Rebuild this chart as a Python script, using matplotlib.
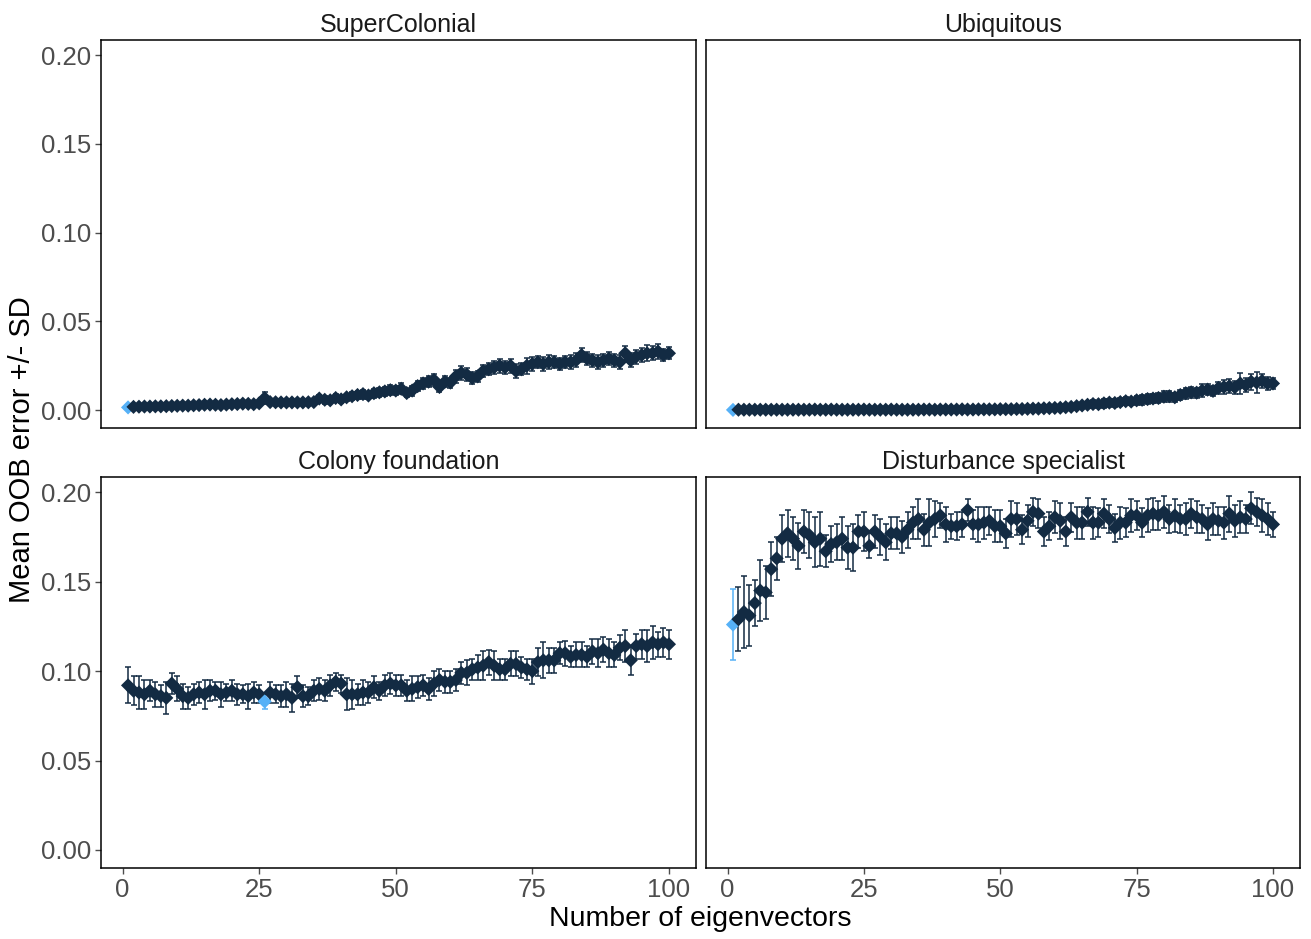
import numpy as np
import matplotlib
matplotlib.use("Agg")
import matplotlib.pyplot as plt

plt.rcParams['font.family'] = ['Liberation Sans', 'DejaVu Sans']

n_eig = np.arange(1, 101)

# --- mean OOB error per number of eigenvectors ---
super_mean = [0.0015, 0.0018, 0.0019, 0.0020, 0.0020, 0.0021, 0.0021, 0.0022, 0.0023, 0.0024,
              0.0025, 0.0025, 0.0027, 0.0028, 0.0030, 0.0031, 0.0030, 0.0028, 0.0031, 0.0033,
              0.0034, 0.0036, 0.0035, 0.0033, 0.0038, 0.0068, 0.0045, 0.0044, 0.0043, 0.0043,
              0.0043, 0.0043, 0.0043, 0.0044, 0.0045, 0.0065, 0.0058, 0.0055, 0.0068, 0.0060,
              0.0072, 0.0078, 0.0085, 0.0090, 0.0082, 0.0095, 0.0100, 0.0105, 0.0112, 0.0110,
              0.0120, 0.0096, 0.0110, 0.0135, 0.0150, 0.0160, 0.0170, 0.0130, 0.0160, 0.0155,
              0.0190, 0.0210, 0.0200, 0.0180, 0.0190, 0.0220, 0.0230, 0.0240, 0.0250, 0.0240,
              0.0250, 0.0220, 0.0230, 0.0250, 0.0260, 0.0270, 0.0260, 0.0270, 0.0270, 0.0260,
              0.0270, 0.0270, 0.0280, 0.0310, 0.0290, 0.0280, 0.0270, 0.0280, 0.0290, 0.0280,
              0.0270, 0.0320, 0.0280, 0.0300, 0.0310, 0.0320, 0.0320, 0.0330, 0.0310, 0.0320]
super_sd = [0.0004, 0.0004, 0.0004, 0.0004, 0.0004, 0.0005, 0.0005, 0.0005, 0.0005, 0.0005,
            0.0005, 0.0005, 0.0006, 0.0006, 0.0006, 0.0006, 0.0006, 0.0006, 0.0007, 0.0007,
            0.0007, 0.0007, 0.0008, 0.0008, 0.0008, 0.0035, 0.0008, 0.0008, 0.0008, 0.0008,
            0.0008, 0.0008, 0.0008, 0.0008, 0.0008, 0.0020, 0.0022, 0.0015, 0.0020, 0.0018,
            0.0020, 0.0022, 0.0022, 0.0025, 0.0022, 0.0025, 0.0025, 0.0025, 0.0028, 0.0025,
            0.0030, 0.0025, 0.0028, 0.0030, 0.0030, 0.0030, 0.0032, 0.0030, 0.0030, 0.0028,
            0.0035, 0.0038, 0.0035, 0.0035, 0.0030, 0.0035, 0.0035, 0.0038, 0.0040, 0.0035,
            0.0040, 0.0038, 0.0035, 0.0045, 0.0040, 0.0035, 0.0040, 0.0038, 0.0035, 0.0035,
            0.0035, 0.0038, 0.0040, 0.0040, 0.0038, 0.0035, 0.0040, 0.0038, 0.0038, 0.0035,
            0.0040, 0.0040, 0.0040, 0.0038, 0.0040, 0.0045, 0.0040, 0.0040, 0.0035, 0.0035]

ubiq_mean = [0.0001, 0.0002, 0.0002, 0.0002, 0.0002, 0.0002, 0.0002, 0.0002, 0.0002, 0.0002,
             0.0002, 0.0002, 0.0002, 0.0002, 0.0002, 0.0003, 0.0002, 0.0002, 0.0003, 0.0002,
             0.0002, 0.0002, 0.0002, 0.0002, 0.0003, 0.0002, 0.0002, 0.0002, 0.0002, 0.0003,
             0.0002, 0.0002, 0.0002, 0.0002, 0.0002, 0.0003, 0.0003, 0.0002, 0.0003, 0.0003,
             0.0003, 0.0003, 0.0004, 0.0003, 0.0003, 0.0004, 0.0004, 0.0004, 0.0004, 0.0005,
             0.0005, 0.0005, 0.0006, 0.0006, 0.0007, 0.0008, 0.0008, 0.0010, 0.0011, 0.0012,
             0.0013, 0.0016, 0.0018, 0.0022, 0.0026, 0.0030, 0.0034, 0.0033, 0.0038, 0.0042,
             0.0040, 0.0045, 0.0050, 0.0048, 0.0055, 0.0058, 0.0062, 0.0065, 0.0068, 0.0075,
             0.0078, 0.0072, 0.0085, 0.0095, 0.0100, 0.0098, 0.0110, 0.0115, 0.0108, 0.0125,
             0.0130, 0.0135, 0.0128, 0.0150, 0.0140, 0.0160, 0.0155, 0.0165, 0.0150, 0.0150]
ubiq_sd = [0.0002, 0.0003, 0.0003, 0.0003, 0.0003, 0.0003, 0.0003, 0.0003, 0.0003, 0.0003,
           0.0003, 0.0003, 0.0003, 0.0003, 0.0003, 0.0004, 0.0003, 0.0003, 0.0004, 0.0003,
           0.0003, 0.0003, 0.0003, 0.0003, 0.0004, 0.0003, 0.0003, 0.0003, 0.0003, 0.0004,
           0.0003, 0.0003, 0.0003, 0.0003, 0.0003, 0.0004, 0.0004, 0.0003, 0.0004, 0.0004,
           0.0004, 0.0004, 0.0005, 0.0004, 0.0004, 0.0005, 0.0005, 0.0005, 0.0005, 0.0006,
           0.0006, 0.0006, 0.0007, 0.0007, 0.0008, 0.0008, 0.0009, 0.0010, 0.0010, 0.0011,
           0.0012, 0.0013, 0.0014, 0.0015, 0.0016, 0.0018, 0.0020, 0.0018, 0.0025, 0.0022,
           0.0020, 0.0022, 0.0024, 0.0022, 0.0025, 0.0028, 0.0026, 0.0024, 0.0028, 0.0030,
           0.0030, 0.0026, 0.0030, 0.0032, 0.0030, 0.0028, 0.0035, 0.0032, 0.0030, 0.0035,
           0.0040, 0.0038, 0.0035, 0.0060, 0.0040, 0.0045, 0.0060, 0.0040, 0.0035, 0.0030]

colony_mean = [0.092, 0.089, 0.088, 0.087, 0.089, 0.087, 0.086, 0.085, 0.093, 0.090,
               0.086, 0.085, 0.087, 0.088, 0.087, 0.089, 0.089, 0.087, 0.088, 0.089,
               0.087, 0.087, 0.086, 0.088, 0.087, 0.083, 0.088, 0.087, 0.086, 0.087,
               0.085, 0.091, 0.086, 0.086, 0.089, 0.090, 0.089, 0.092, 0.094, 0.093,
               0.087, 0.087, 0.087, 0.088, 0.088, 0.091, 0.089, 0.092, 0.093, 0.092,
               0.092, 0.089, 0.090, 0.091, 0.092, 0.090, 0.093, 0.095, 0.094, 0.094,
               0.095, 0.099, 0.099, 0.101, 0.102, 0.103, 0.105, 0.103, 0.101, 0.101,
               0.104, 0.104, 0.102, 0.101, 0.100, 0.105, 0.106, 0.106, 0.106, 0.110,
               0.110, 0.108, 0.109, 0.109, 0.108, 0.111, 0.110, 0.112, 0.110, 0.109,
               0.113, 0.114, 0.106, 0.114, 0.115, 0.114, 0.116, 0.115, 0.116, 0.115]
colony_sd = [0.010, 0.008, 0.009, 0.008, 0.006, 0.007, 0.006, 0.009, 0.006, 0.007,
             0.007, 0.006, 0.006, 0.006, 0.008, 0.006, 0.005, 0.007, 0.005, 0.006,
             0.006, 0.005, 0.007, 0.006, 0.005, 0.004, 0.006, 0.005, 0.006, 0.007,
             0.008, 0.006, 0.006, 0.005, 0.006, 0.006, 0.006, 0.006, 0.005, 0.005,
             0.009, 0.008, 0.006, 0.007, 0.006, 0.006, 0.005, 0.006, 0.006, 0.006,
             0.006, 0.006, 0.007, 0.006, 0.006, 0.006, 0.007, 0.006, 0.006, 0.006,
             0.006, 0.006, 0.007, 0.006, 0.007, 0.008, 0.007, 0.008, 0.006, 0.006,
             0.007, 0.007, 0.006, 0.006, 0.007, 0.008, 0.010, 0.007, 0.007, 0.006,
             0.007, 0.006, 0.007, 0.007, 0.006, 0.007, 0.008, 0.007, 0.008, 0.007,
             0.007, 0.009, 0.008, 0.007, 0.008, 0.009, 0.009, 0.007, 0.008, 0.008]

disturb_mean = [0.126, 0.129, 0.133, 0.131, 0.138, 0.145, 0.144, 0.157, 0.163, 0.174,
                0.177, 0.174, 0.170, 0.178, 0.176, 0.172, 0.174, 0.167, 0.171, 0.172,
                0.174, 0.169, 0.169, 0.178, 0.178, 0.170, 0.178, 0.175, 0.172, 0.177,
                0.177, 0.175, 0.179, 0.183, 0.185, 0.179, 0.183, 0.185, 0.187, 0.182,
                0.181, 0.181, 0.182, 0.190, 0.182, 0.182, 0.183, 0.184, 0.181, 0.181,
                0.177, 0.185, 0.185, 0.179, 0.184, 0.189, 0.188, 0.178, 0.181, 0.186,
                0.184, 0.178, 0.186, 0.183, 0.183, 0.189, 0.183, 0.183, 0.188, 0.185,
                0.180, 0.183, 0.183, 0.187, 0.187, 0.183, 0.187, 0.188, 0.187, 0.189,
                0.185, 0.187, 0.185, 0.185, 0.188, 0.186, 0.185, 0.182, 0.185, 0.184,
                0.183, 0.188, 0.184, 0.186, 0.185, 0.191, 0.189, 0.187, 0.185, 0.182]
disturb_sd = [0.020, 0.018, 0.020, 0.017, 0.013, 0.017, 0.015, 0.015, 0.012, 0.013,
              0.013, 0.012, 0.013, 0.012, 0.013, 0.014, 0.015, 0.009, 0.010, 0.010,
              0.012, 0.012, 0.013, 0.009, 0.011, 0.007, 0.009, 0.010, 0.010, 0.009,
              0.009, 0.009, 0.010, 0.009, 0.011, 0.009, 0.013, 0.010, 0.007, 0.010,
              0.007, 0.008, 0.007, 0.006, 0.008, 0.010, 0.009, 0.008, 0.009, 0.009,
              0.008, 0.010, 0.009, 0.008, 0.009, 0.008, 0.008, 0.008, 0.008, 0.009,
              0.010, 0.008, 0.008, 0.009, 0.009, 0.008, 0.009, 0.008, 0.008, 0.008,
              0.008, 0.009, 0.008, 0.009, 0.008, 0.008, 0.009, 0.009, 0.008, 0.009,
              0.008, 0.009, 0.008, 0.009, 0.008, 0.009, 0.008, 0.009, 0.009, 0.008,
              0.009, 0.010, 0.009, 0.009, 0.008, 0.009, 0.008, 0.009, 0.009, 0.007]

panels = [("SuperColonial", super_mean, super_sd),
          ("Ubiquitous", ubiq_mean, ubiq_sd),
          ("Colony foundation", colony_mean, colony_sd),
          ("Disturbance specialist", disturb_mean, disturb_sd)]

dark = "#132B43"
light = "#56B1F7"
tick_grey = "#4D4D4D"

fig = plt.figure(figsize=(13.11, 9.39), dpi=100)
W, H = 1311, 939
boxes = [(101, 40, 696, 428), (706, 40, 1300, 428),
         (101, 477, 696, 868), (706, 477, 1300, 868)]

for i, (name, mean, sd) in enumerate(panels):
    x0, y0, x1, y1 = boxes[i]
    ax = fig.add_axes([x0 / W, 1 - y1 / H, (x1 - x0) / W, (y1 - y0) / H])
    mean = np.array(mean)
    sd = np.array(sd)
    best = int(np.argmin(mean))
    cols = [dark] * len(mean)
    cols[best] = light
    for j in range(len(mean)):
        ax.errorbar(n_eig[j], mean[j], yerr=sd[j], fmt='none', ecolor=cols[j],
                    elinewidth=1.1, capsize=2.2, capthick=1.1, zorder=2)
    ax.scatter(n_eig, mean, c=cols, marker='D', s=52, linewidths=0, zorder=3)

    ax.set_xlim(-3.95, 104.95)
    ax.set_ylim(-0.0101, 0.2085)
    ax.set_xticks([0, 25, 50, 75, 100])
    ax.set_yticks([0, 0.05, 0.10, 0.15, 0.20])
    ax.set_yticklabels(["0.00", "0.05", "0.10", "0.15", "0.20"])
    for s in ax.spines.values():
        s.set_color("black")
        s.set_linewidth(1.1)
    ax.tick_params(colors=tick_grey, labelsize=18.5, length=4, width=1.0,
                   labelcolor=tick_grey, pad=3)
    if i < 2:
        ax.tick_params(axis='x', bottom=False, labelbottom=False)
    if i % 2 == 1:
        ax.tick_params(axis='y', left=False, labelleft=False)
    ax.set_title(name, fontsize=18, color="#1A1A1A", pad=6)

fig.text(700 / W, 1 - 919 / H, "Number of eigenvectors", ha='center', va='center',
         fontsize=20.5, color="black")
fig.text(22 / W, 1 - 450 / H, "Mean OOB error +/- SD", ha='center', va='center',
         rotation=90, fontsize=21, color="black")

fig.savefig("out.png", dpi=100, facecolor="white")
